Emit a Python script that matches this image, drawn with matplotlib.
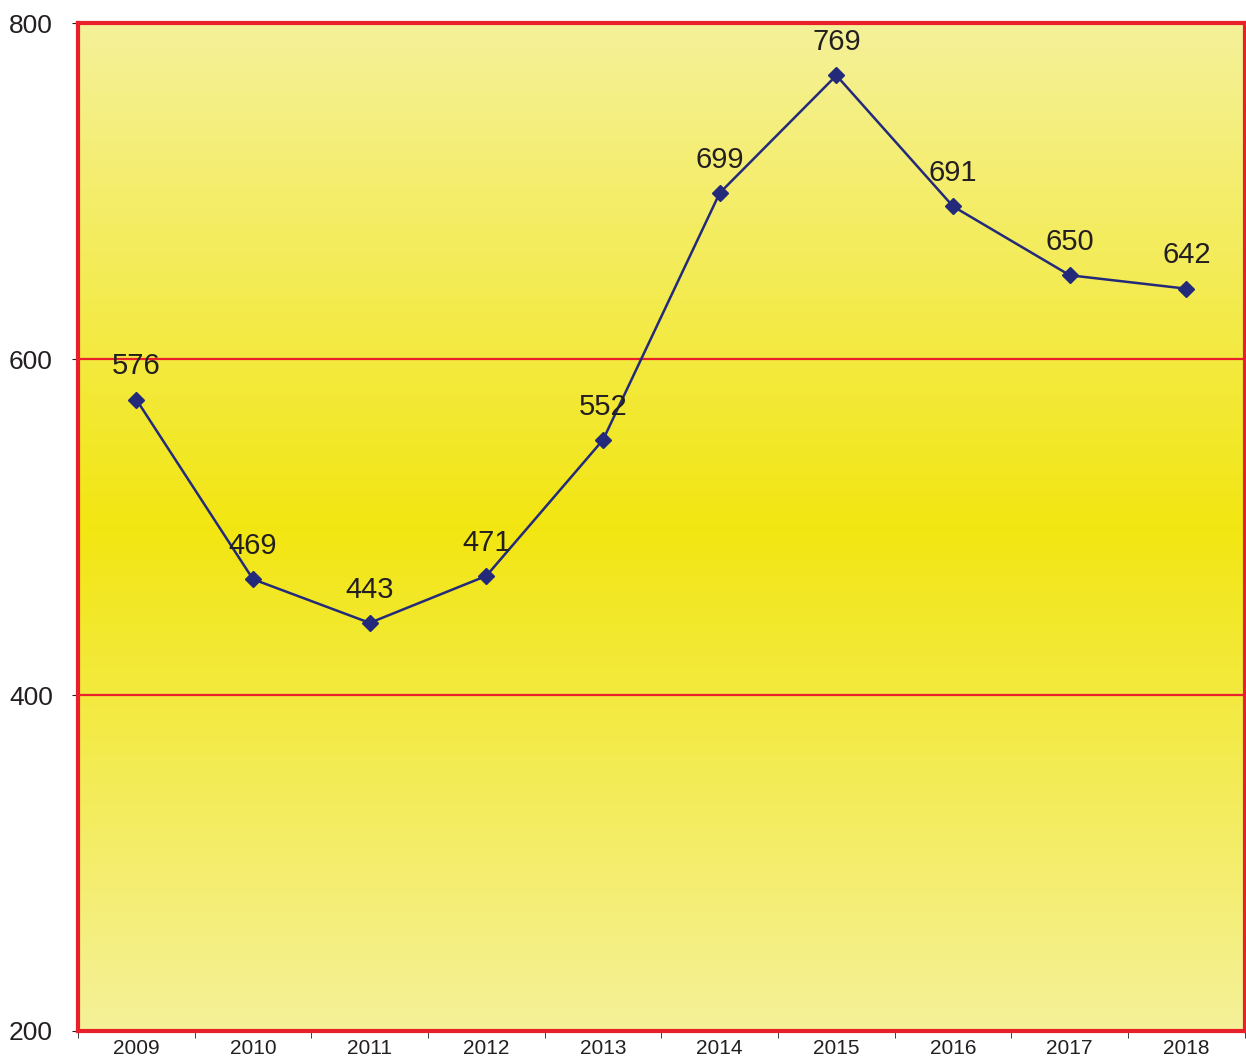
import matplotlib.pyplot as plt
import numpy as np
from matplotlib.colors import LinearSegmentedColormap

years = ['2009', '2010', '2011', '2012', '2013', '2014', '2015', '2016', '2017', '2018']
values = [576, 469, 443, 471, 552, 699, 769, 691, 650, 642]

plt.rcParams['font.family'] = ['Liberation Sans', 'DejaVu Sans']

fig = plt.figure(figsize=(12.46, 10.62), dpi=100)
ax = fig.add_axes([0.0626, 0.0292, 0.9364, 0.9488])

x = np.arange(len(years))
ax.set_xlim(-0.5, 9.5)
ax.set_ylim(200, 800)

# yellow gradient background, strongest around the middle
cmap = LinearSegmentedColormap.from_list('yel', ['#F5F199', '#F2E612', '#F5F199'])
grad = np.linspace(0, 1, 256).reshape(-1, 1)
ax.imshow(grad, extent=(-0.5, 9.5, 200, 800), aspect='auto', cmap=cmap,
          origin='lower', zorder=0)

for yv in [400, 600]:
    ax.axhline(yv, color='#E8202A', lw=1.6, zorder=1)

ax.plot(x, values, color='#232A7A', lw=1.8, marker='D', markersize=8, zorder=3)
for xi, v in zip(x, values):
    ax.annotate(str(v), (xi, v), xytext=(0, 24), textcoords='offset points',
                ha='center', va='center', fontsize=21, color='#231F20')

for s in ax.spines.values():
    s.set_color('#E8202A')
    s.set_linewidth(3)
    s.set_zorder(4)

ax.set_yticks([200, 400, 600, 800])
ax.set_yticklabels(['200', '400', '600', '800'], fontsize=19, color='#231F20')
ax.tick_params(axis='y', length=4, color='#231F20', pad=14)

ax.set_xticks(x)
ax.set_xticklabels(years, fontsize=15, color='#231F20')
ax.tick_params(axis='x', length=0, pad=6)
ax.set_xticks(np.arange(-0.5, 10, 1), minor=True)
ax.tick_params(axis='x', which='minor', length=5, color='#231F20', direction='out')

fig.savefig('out.png', dpi=100)
